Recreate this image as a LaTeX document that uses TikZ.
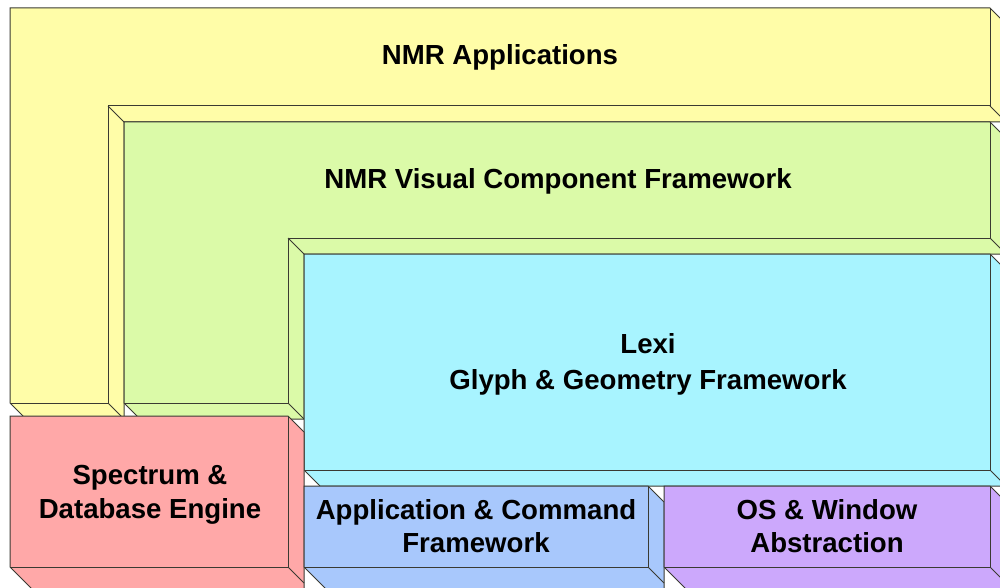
\documentclass[tikz,border=0pt]{standalone}
\usepackage{fontspec}
\setmainfont{Liberation Sans}

\definecolor{edgegray}{HTML}{3A3A32}
\definecolor{appYellow}{HTML}{FFFDA8}
\definecolor{vcfGreen}{HTML}{DBFAA8}
\definecolor{lexiCyan}{HTML}{A8F4FF}
\definecolor{specRed}{HTML}{FFA8A8}
\definecolor{cmdBlue}{HTML}{A8C8FC}
\definecolor{osPurple}{HTML}{CCA8FC}

\tikzset{
  layer/.style={draw=edgegray, line width=1pt, line join=miter},
  ylwlayer/.style={layer, fill=appYellow},
  grnlayer/.style={layer, fill=vcfGreen},
  cyanlayer/.style={layer, fill=lexiCyan},
  redlayer/.style={layer, fill=specRed},
  bluelayer/.style={layer, fill=cmdBlue},
  purplayer/.style={layer, fill=osPurple},
  edge/.style={draw=edgegray, line width=1pt, line join=miter},
  caption/.style={font=\fontsize{27.6}{33.5}\selectfont\bfseries,
    align=center, inner sep=0pt, text=black},
}

\begin{document}
\begin{tikzpicture}[x=1pt,y=-1pt]
\useasboundingbox (0,0) rectangle (1000,588);
\clip (0,0) rectangle (1000,588);

% NMR Applications: L-shaped slab, depth offset 16 down-right
\filldraw[ylwlayer] (10,8) -- (990,8) -- (1006,24) -- (1006,122) -- (124,122)
  -- (124,419) -- (26,419) -- (10,403) -- cycle;
\draw[edge] (990,8) -- (990,106) -- (108,106) -- (108,403) -- (10,403);
\draw[edge] (990,106) -- (1006,122);
\draw[edge] (108,106) -- (124,122);
\draw[edge] (108,403) -- (124,419);

% NMR Visual Component Framework: L-shaped slab
\filldraw[grnlayer] (124,122) -- (990,122) -- (1006,138) -- (1006,254) -- (304,254)
  -- (304,419) -- (140,419) -- (124,403) -- cycle;
\draw[edge] (990,122) -- (990,238) -- (288,238) -- (288,403) -- (124,403);
\draw[edge] (990,238) -- (1006,254);
\draw[edge] (288,238) -- (304,254);
\draw[edge] (288,403) -- (304,419);

% Lexi block
\filldraw[cyanlayer] (304,254) -- (990,254) -- (1006,270) -- (1006,486) -- (320,486)
  -- (304,470) -- cycle;
\draw[edge] (990,254) -- (990,470) -- (304,470);
\draw[edge] (990,470) -- (1006,486);

% Spectrum & Database Engine block
\filldraw[redlayer] (10,416) -- (288,416) -- (304,432) -- (304,600) -- (43,600)
  -- (10,567) -- cycle;
\draw[edge] (288,416) -- (288,567) -- (10,567);
\draw[edge] (288,567) -- (304,583);

% Application & Command Framework block
\filldraw[bluelayer] (304,486) -- (648,486) -- (664,502) -- (664,600) -- (337,600)
  -- (304,567) -- cycle;
\draw[edge] (648,486) -- (648,567) -- (304,567);
\draw[edge] (648,567) -- (664,583);

% OS & Window Abstraction block
\filldraw[purplayer] (664,486) -- (990,486) -- (1006,502) -- (1006,600) -- (697,600)
  -- (664,567) -- cycle;
\draw[edge] (990,486) -- (990,567) -- (664,567);
\draw[edge] (990,567) -- (1006,583);

% Labels
\node[caption] (apps)   at (500,57)  {NMR Applications};
\node[caption] (vcf)    at (558,181) {NMR Visual Component Framework};
\node[caption, font=\fontsize{27.6}{36}\selectfont\bfseries]
               (lexi)   at (648,364) {Lexi\\Glyph \& Geometry Framework};
\node[caption] (spec)   at (150,495) {Spectrum \&\\Database Engine};
\node[caption] (appcmd) at (476,526) {Application \& Command\\Framework};
\node[caption] (oswin)  at (827,526) {OS \& Window\\Abstraction};
\end{tikzpicture}
\end{document}
